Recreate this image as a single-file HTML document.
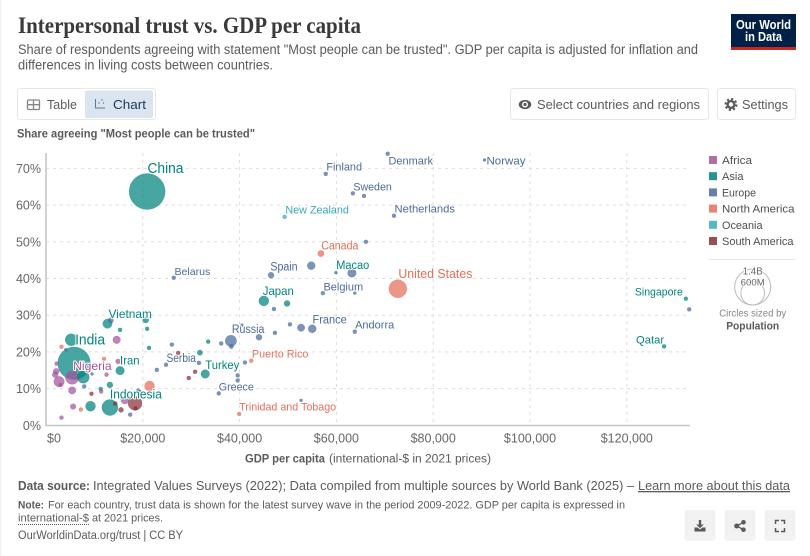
<!DOCTYPE html>
<html lang="en">
<head>
<meta charset="utf-8">
<title>Interpersonal trust vs. GDP per capita</title>
<style>
html,body{margin:0;padding:0;background:#fff;width:810px;height:556px;overflow:hidden}
svg{display:block;font-family:"Liberation Sans",sans-serif}
.lab{paint-order:stroke;stroke:#fff;stroke-width:2px;stroke-linejoin:round}
</style>
</head>
<body>
<svg id="page" xmlns="http://www.w3.org/2000/svg" width="810" height="556" viewBox="0 0 810 556">
  <rect x="0" y="0" width="810" height="556" fill="#fff"/>
  <rect x="0" y="0" width="1.5" height="556" fill="#f2f2f2"/>

  <text x="18" y="33" font-family="'Liberation Serif',serif" font-weight="700" font-size="23" fill="#3a3a3a" textLength="343" lengthAdjust="spacingAndGlyphs">Interpersonal trust vs. GDP per capita</text>
  <text x="18" y="54" font-size="13.5" fill="#5b5b5b" textLength="680" lengthAdjust="spacingAndGlyphs">Share of respondents agreeing with statement "Most people can be trusted". GDP per capita is adjusted for inflation and</text>
  <text x="18" y="69.5" font-size="13.5" fill="#5b5b5b" textLength="255" lengthAdjust="spacingAndGlyphs">differences in living costs between countries.</text>

  <g>
    <rect x="731" y="14" width="65" height="36" fill="#002147"/>
    <rect x="731" y="47" width="65" height="3" fill="#ce261e"/>
    <text x="763.5" y="29" text-anchor="middle" font-size="12.5" font-weight="700" fill="#fff" textLength="55" lengthAdjust="spacingAndGlyphs">Our World</text>
    <text x="763.5" y="41" text-anchor="middle" font-size="12.5" font-weight="700" fill="#fff" textLength="37" lengthAdjust="spacingAndGlyphs">in Data</text>
  </g>

  <g>
    <rect x="17.5" y="88.5" width="138" height="31" rx="3" fill="#fff" stroke="#e7e7e7"/>
    <g>
      <g fill="none" stroke="#858585" stroke-width="1.3">
        <rect x="27.5" y="100" width="12" height="9.5" rx="1.2"/>
        <path d="M27.5 104.7H39.5M33.5 100V109.5"/>
      </g>
      <text x="47" y="109" font-size="13" fill="#5b5b5b" textLength="30" lengthAdjust="spacingAndGlyphs">Table</text>
    </g>
    <g>
      <rect x="85" y="90.5" width="68" height="27.5" rx="2" fill="#dbe5f0"/>
      <g>
        <path d="M95.5 99V108H105" fill="none" stroke="#5b7a9c" stroke-width="1"/>
        <circle cx="99" cy="103" r=".7" fill="#5b7a9c"/><circle cx="102" cy="100" r=".7" fill="#5b7a9c"/><circle cx="103.5" cy="103" r=".7" fill="#5b7a9c"/>
      </g>
      <text x="113" y="109" font-size="13" fill="#183759" textLength="33" lengthAdjust="spacingAndGlyphs">Chart</text>
    </g>
  </g>

  <g>
    <rect x="510.5" y="88.5" width="198" height="31" rx="3" fill="#fff" stroke="#e7e7e7"/>
    <g>
      <ellipse cx="525" cy="104.5" rx="6.3" ry="4.6" fill="#5b5b5b"/>
      <circle cx="525" cy="104.5" r="3" fill="#fff"/>
      <circle cx="525" cy="104.5" r="1.6" fill="#5b5b5b"/>
    </g>
    <text x="537" y="109" font-size="13" fill="#5b5b5b" textLength="163" lengthAdjust="spacingAndGlyphs">Select countries and regions</text>
  </g>
  <g>
    <rect x="717.5" y="88.5" width="78" height="31" rx="3" fill="#fff" stroke="#e7e7e7"/>
    <g>
      <circle cx="731" cy="104.5" r="5.5" fill="none" stroke="#5b5b5b" stroke-width="2" stroke-dasharray="2.2 2.1"/>
      <circle cx="731" cy="104.5" r="3.4" fill="none" stroke="#5b5b5b" stroke-width="2.4"/>
    </g>
    <text x="742" y="109" font-size="13" fill="#5b5b5b" textLength="46" lengthAdjust="spacingAndGlyphs">Settings</text>
  </g>

  <text x="17" y="137.5" font-size="11.5" font-weight="700" fill="#5b5b5b" textLength="238" lengthAdjust="spacingAndGlyphs">Share agreeing "Most people can be trusted"</text>

  <g id="grid"></g>
  <g id="axes"></g>
  <g id="marks"></g>
  <g id="labels"></g>

  <text x="245" y="462.5" font-size="11.5" font-weight="700" fill="#5b5b5b" textLength="80" lengthAdjust="spacingAndGlyphs">GDP per capita</text>
  <text x="329" y="462.5" font-size="11.5" fill="#5b5b5b" textLength="162" lengthAdjust="spacingAndGlyphs">(international-$ in 2021 prices)</text>

  <g id="legend"></g>
  <line x1="708" y1="259.5" x2="796" y2="259.5" stroke="#e7e7e7"/>
  <g>
    <circle cx="752.7" cy="287" r="18" fill="none" stroke="#bbb"/>
    <circle cx="752.7" cy="293.2" r="11.8" fill="none" stroke="#bbb"/>
    <text class="lab" x="752.7" y="274.3" text-anchor="middle" font-size="10" fill="#666" textLength="20" lengthAdjust="spacingAndGlyphs">1.4B</text>
    <text class="lab" x="752.7" y="285.7" text-anchor="middle" font-size="9.5" fill="#666" textLength="24" lengthAdjust="spacingAndGlyphs">600M</text>
    <text x="752.7" y="316.7" text-anchor="middle" font-size="10.5" fill="#858585" textLength="67" lengthAdjust="spacingAndGlyphs">Circles sized by</text>
    <text x="752.7" y="329.3" text-anchor="middle" font-size="11" font-weight="700" fill="#5b5b5b" textLength="53" lengthAdjust="spacingAndGlyphs">Population</text>
  </g>

  <g font-size="13" fill="#5b5b5b">
    <text x="18" y="490" font-weight="700" textLength="72" lengthAdjust="spacingAndGlyphs">Data source:</text>
    <text x="93" y="490" textLength="541" lengthAdjust="spacingAndGlyphs">Integrated Values Surveys (2022); Data compiled from multiple sources by World Bank (2025) –</text>
    <text x="638" y="490" text-decoration="underline" textLength="152" lengthAdjust="spacingAndGlyphs">Learn more about this data</text>
  </g>
  <g font-size="11" fill="#5b5b5b">
    <text x="18" y="508.3" font-weight="700" textLength="26" lengthAdjust="spacingAndGlyphs">Note:</text>
    <text x="48" y="508.3" textLength="577" lengthAdjust="spacingAndGlyphs">For each country, trust data is shown for the latest survey wave in the period 2009-2022. GDP per capita is expressed in</text>
    <text x="18" y="521.7" textLength="71" lengthAdjust="spacingAndGlyphs">international-$</text>
    <line x1="18" y1="524.5" x2="89" y2="524.5" stroke="#5b5b5b" stroke-dasharray="1 1"/>
    <text x="92" y="521.7" textLength="71" lengthAdjust="spacingAndGlyphs">at 2021 prices.</text>
  </g>
  <text x="18" y="539" font-size="11.5" fill="#5b5b5b" textLength="165" lengthAdjust="spacingAndGlyphs">OurWorldinData.org/trust | CC BY</text>

  <g>
    <rect x="684.5" y="510" width="31" height="31" rx="3" fill="#f2f2f2"/>
    <path d="M698.8 520h2.400v4.500h2.600l-3.800 3.800-3.800-3.800h2.600zM694.500 527.500h3l2.500 2 2.500-2h3v4h-11z" fill="#5b5b5b"/>
  </g>
  <g>
    <rect x="724.5" y="510" width="31" height="31" rx="3" fill="#f2f2f2"/>
    <g fill="#5b5b5b">
      <circle cx="736.7" cy="526" r="2.5"/><circle cx="743.5" cy="522.3" r="2.3"/><circle cx="743.5" cy="529.7" r="2.3"/>
      <path d="M736.7 526L743.5 522.3M736.7 526L743.5 529.7" stroke="#5b5b5b" stroke-width="1.3"/>
    </g>
  </g>
  <g>
    <rect x="764.5" y="510" width="31" height="31" rx="3" fill="#f2f2f2"/>
    <path d="M775.5 524v-3.500h3.500M781 520.500h3.500v3.500M784.500 528v3.500H781M779 531.500h-3.500V528" fill="none" stroke="#5b5b5b" stroke-width="1.5"/>
  </g>
</svg>
<script>
const xTicks = [0, 20000, 40000, 60000, 80000, 100000, 120000];
const xTickLabels = ["$0", "$20,000", "$40,000", "$60,000", "$80,000", "$100,000", "$120,000"];
const yTicks = [0, 10, 20, 30, 40, 50, 60, 70];
const yTickLabels = ["0%", "10%", "20%", "30%", "40%", "50%", "60%", "70%"];
const continentNames = ["Africa", "Asia", "Europe", "North America", "Oceania", "South America"];

const countryNames = [
"China","India","","Vietnam","","","","","Iran","","","","","Indonesia","","","Turkey","Japan","","Qatar","Singapore","Macao",
"Nigeria","","","","","","","","","","","","","",
"Russia","","","","","",
"Serbia","","","","",
"Greece","","","","","","","","","","","",
"France","Andorra","","Belgium","","Spain","","","",
"Netherlands","","Sweden","Finland","Denmark","Norway","","Belarus","",
"New Zealand",
"Canada","United States","","","","","Puerto Rico","Trinidad and Tobago",
"","","","","","","",""
];
const continents = [
"Asia","Asia","Asia","Asia","Asia","Asia","Asia","Asia","Asia","Asia",
"Asia","Asia","Asia","Asia","Asia","Asia","Asia","Asia","Asia","Asia",
"Asia","Asia",
"Africa","Africa","Africa","Africa","Africa","Africa","Africa","Africa","Africa","Africa",
"Africa","Africa","Africa","Africa",
"Europe","Europe","Europe","Europe","Europe","Europe","Europe","Europe","Europe","Europe",
"Europe","Europe","Europe","Europe","Europe","Europe","Europe","Europe","Europe","Europe",
"Europe","Europe","Europe","Europe","Europe","Europe","Europe","Europe","Europe","Europe",
"Europe","Europe","Europe","Europe","Europe","Europe","Europe","Europe","Europe","Europe",
"Europe",
"Oceania",
"North America","North America","North America","North America","North America","North America","North America","North America",
"South America","South America","South America","South America","South America","South America","South America","South America"
];
const gdpPerCapita = [
20900,5800,5200,12700,15300,20600,20900,21300,15300,13200,11300,7700,9200,13200,31800,33500,32900,45000,49800,127700,132200,59900,
5400,14600,2700,2200,2100,1900,3000,5400,5600,3200,12500,11400,14900,16300,
38200,38300,36200,40500,44000,26000,31600,24800,22900,39600,39600,35700,41100,17400,7900,9500,13400,4100,19000,47100,50400,47300,52700,55000,63800,52700,57200,63800,46500,54800,63200,66100,71900,65700,63400,57800,70600,90600,132900,26400,19400,
49300,
56800,72700,21400,3200,7200,12000,42400,39900,
18400,18500,14300,15500,9400,27300,30800,29500
];
const trustShare = [
63.7,16.9,23.3,27.7,26.0,28.7,26.3,21.1,14.9,11.0,9.9,13.1,5.2,4.85,19.8,22.8,14.0,33.9,33.2,21.5,34.5,41.6,
13.0,23.3,11.9,16.8,14.7,13.8,11.0,9.5,5.1,2.1,13.8,9.2,17.4,6.9,
23.0,21.5,22.3,27.3,24.0,22.0,17.0,16.5,15.1,13.6,12.2,8.7,17.1,2.9,10.6,14.0,28.6,20.6,9.6,31.7,27.5,25.2,26.6,26.3,25.5,6.8,36.0,36.0,40.9,43.5,41.5,50.0,57.1,62.5,63.2,68.5,74.0,72.3,31.6,40.2,9.2,
56.8,
46.8,37.2,10.7,21.4,4.3,18.1,17.6,3.1,
6.0,4.6,5.9,4.2,8.6,19.7,14.6,12.9
];
const populationMillions = [
1400,1150,155,95,17,39,17,17,80,39,17,155,108,276,31,17,80,108,39,17,17,10,
194,62,121,17,39,39,17,59,34,17,17,17,27,69,
140,21,17,10,39,17,17,17,17,17,17,17,17,17,17,10,31,10,10,17,17,17,59,69,17,10,17,10,39,69,80,17,17,17,17,17,17,10,17,17,10,
17,
44,350,108,17,17,17,17,17,
212,17,17,27,17,17,17,17
];

const continentColor = {"Africa":"#A2559C","Asia":"#00847E","Europe":"#4C6A9C","North America":"#E56E5A","Oceania":"#38AABA","South America":"#883039"};
const NS = "http://www.w3.org/2000/svg";
const xScale = v => 46 + v * 0.00484;
const yScale = v => 425.3 - v * 3.67;
const rScale = p => 18 * Math.sqrt(p / 1400);

function make(tag, attrs, parent) {
  const el = document.createElementNS(NS, tag);
  for (const k in attrs) el.setAttribute(k, attrs[k]);
  parent.appendChild(el);
  return el;
}

function drawAxes() {
  const grid = document.getElementById("grid");
  const axes = document.getElementById("axes");
  xTicks.forEach((t, i) => {
    if (t > 0) {
      const gl = make("line", {x1:xScale(t), x2:xScale(t), y1:153, y2:425, stroke:"#dddddd", "stroke-dasharray":"3 4"}, grid);
      
      
    }
    const tx = make("text", {x:t === 0 ? 47 : xScale(t), y:442.5, "text-anchor":t === 0 ? "start" : "middle", "font-size":12.5, fill:"#666"}, axes);
    tx.textContent = xTickLabels[i];
    
    
  });
  yTicks.forEach((t, i) => {
    if (t > 0) {
      const gl = make("line", {x1:46, x2:690, y1:yScale(t), y2:yScale(t), stroke:"#dddddd", "stroke-dasharray":"3 4"}, grid);
      
      
    }
    const tx = make("text", {x:41, y:yScale(t) + 4.5, "text-anchor":"end", "font-size":12.5, fill:"#666"}, axes);
    tx.textContent = yTickLabels[i];
    
    
  });
  const ya = make("line", {x1:46, x2:46, y1:153, y2:425.5, stroke:"#c4c4c4", "stroke-width":1.5}, axes);
  
  
  const xa = make("line", {x1:45.3, x2:690, y1:425.5, y2:425.5, stroke:"#c4c4c4", "stroke-width":1.5}, axes);
  
  
}

function drawMarks() {
  const marks = document.getElementById("marks");
  const order = gdpPerCapita.map((_, i) => i).sort((a, b) => populationMillions[b] - populationMillions[a]);
  order.forEach(i => {
    const c = make("circle", {
      cx: xScale(gdpPerCapita[i]), cy: yScale(trustShare[i]), r: rScale(populationMillions[i]),
      fill: continentColor[continents[i]], "fill-opacity": .72,
      stroke: continentColor[continents[i]], "stroke-opacity": .5, "stroke-width": .5
    }, marks);
    
    
  });
}

function drawLabels() {
  const labels = document.getElementById("labels");
  const placement = {
    "China":[0.3,-18.7,36,14.5],"India":[1,-19,30,14.5],"Nigeria":[1,-7.7,38.5,12],"Vietnam":[1,-5.7,43.5,12],
    "Iran":[0,-6,19.5,12],"Indonesia":[0,-9,52,12.5],"Turkey":[0,-5,34,12],"Serbia":[-32.5,-1,29.5,11.5],
    "Russia":[1,-7.7,32.5,11.5],"Greece":[0,-3,35,11],"Puerto Rico":[0.7,-3.3,56.5,11],"Trinidad and Tobago":[0,-3.3,97,11],
    "France":[0.3,-5.3,34.2,11.5],"Andorra":[0.3,-3,39.2,11],"Japan":[-1,-6,31,12],"Belgium":[0.6,-2.6,39.7,11],
    "Macao":[0.3,-3.7,33,11.5],"Spain":[-0.7,-4.6,27.2,11.5],"Canada":[0.3,-4,37.2,11.5],"United States":[0.5,-10.7,74,12.5],
    "New Zealand":[0.8,-3.3,63.5,11],"Netherlands":[0.5,-3.3,60.5,11],"Sweden":[0.5,-3,38.5,11],"Finland":[0.6,-3.3,35.7,11],
    "Denmark":[0.8,10.7,44.5,11],"Norway":[2,4.7,39,11],"Belarus":[0.7,-3,35.8,10.5],"Singapore":[-51,-3,48,11],"Qatar":[-28,-3,28,11]
  };
  countryNames.forEach((name, i) => {
    if (!name) return;
    const p = placement[name];
    const t = make("text", {
      class: "lab",
      x: xScale(gdpPerCapita[i]) + p[0],
      y: yScale(trustShare[i]) + p[1],
      "font-size": p[3],
      fill: continentColor[continents[i]],
      textLength: p[2],
      lengthAdjust: "spacingAndGlyphs"
    }, labels);
    t.textContent = name;
    
    
  });
}

function drawLegend() {
  const legend = document.getElementById("legend");
  const widths = [30, 21.5, 34, 72.5, 40.5, 71.5];
  continentNames.forEach((n, i) => {
    const cy = 160 + i * 16.2;
    const g = make("g", {}, legend);
    
    
    make("rect", {x:709, y:cy - 4, width:8, height:8, fill:continentColor[n], "fill-opacity":.85}, g);
    const t = make("text", {x:722, y:cy + 4, "font-size":11, fill:"#4e4e4e", textLength:widths[i], lengthAdjust:"spacingAndGlyphs"}, g);
    t.textContent = n;
  });
}

drawAxes();
drawMarks();
drawLabels();
drawLegend();
</script>
</body>
</html>
